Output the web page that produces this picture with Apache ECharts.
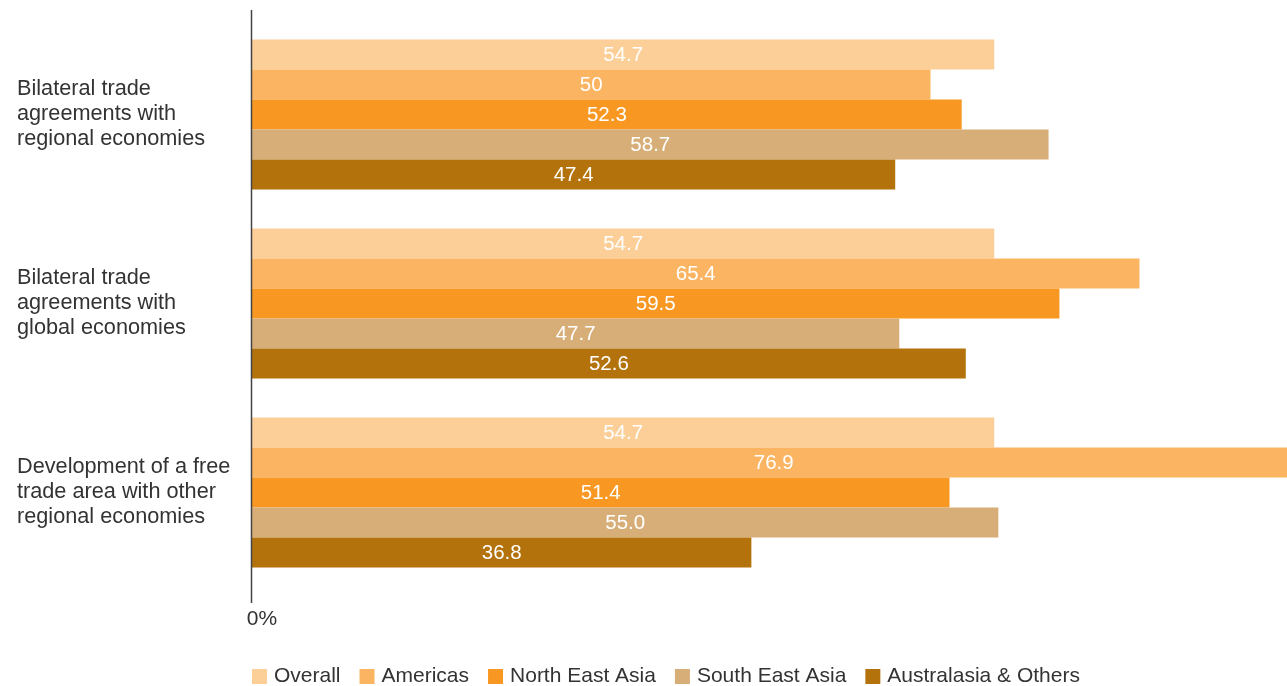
<!DOCTYPE html>
<html>
<head>
<meta charset="utf-8">
<script src="https://cdn.jsdelivr.net/npm/echarts@6/dist/echarts.min.js"></script>
<style>
  html, body { margin: 0; padding: 0; background: #fff; }
  #chart { width: 1287px; height: 686px; }
</style>
</head>
<body>
<div id="chart"></div>
<script>
// Survey categories (top to bottom)
const categories = [
  'Bilateral trade\nagreements with\nregional economies',
  'Bilateral trade\nagreements with\nglobal economies',
  'Development of a free\ntrade area with other\nregional economies'
];

// Region names and their colours
const regions = ['Overall', 'Americas', 'North East Asia', 'South East Asia', 'Australasia & Others'];
const regionColors = ['#FCCF98', '#FBB461', '#F89822', '#D8AE78', '#B3720B'];

// Percentages per region, one value per category (kept as printed)
const overall     = ['54.7', '54.7', '54.7'];
const americas    = ['50', '65.4', '76.9'];
const northEast   = ['52.3', '59.5', '51.4'];
const southEast   = ['58.7', '47.7', '55.0'];
const australasia = ['47.4', '52.6', '36.8'];
const seriesValues = [overall, americas, northEast, southEast, australasia];

const FONT = '"Liberation Sans", Arial, Helvetica, sans-serif';
const chart = echarts.init(document.getElementById('chart'));

chart.setOption({
  animation: false,
  textStyle: { fontFamily: FONT },
  // plot runs to the right edge; the longest bar runs off the page there
  grid: { left: 252, top: 20, height: 567, right: 0, containLabel: false },
  xAxis: {
    type: 'value',
    min: 0,
    max: 76.05,
    interval: 100,
    splitLine: { show: false },
    axisLine: { show: false },
    axisTick: { show: false },
    axisLabel: {
      margin: 22,
      fontSize: 21,
      color: '#333',
      fontFamily: FONT,
      padding: [0, 0, 0, 20],
      formatter: v => (v === 0 ? '0%' : '')
    }
  },
  yAxis: {
    type: 'category',
    inverse: true,
    data: categories,
    axisLine: { show: false },
    axisTick: { show: false },
    axisLabel: {
      align: 'left',
      margin: 235,
      fontSize: 21.7,
      lineHeight: 25,
      color: '#333',
      fontFamily: FONT
    }
  },
  legend: {
    left: 247,
    top: 661,
    itemWidth: 15,
    itemHeight: 15,
    itemGap: 19,
    icon: 'rect',
    textStyle: { fontSize: 21, color: '#333', fontFamily: FONT, padding: [0, 0, 0, 2] },
    data: regions
  },
  graphic: [{
    type: 'line',
    shape: { x1: 251.5, y1: 10, x2: 251.5, y2: 603 },
    style: { stroke: '#444', lineWidth: 1.5 },
    z: 10
  }],
  series: regions.map((name, i) => ({
    name,
    type: 'bar',
    barGap: '0%',
    barCategoryGap: '20.6%',
    clip: false,
    itemStyle: { color: regionColors[i] },
    label: {
      show: true,
      position: 'inside',
      color: '#fff',
      fontSize: 20.5,
      fontFamily: FONT,
      offset: [0, 1],
      formatter: p => seriesValues[i][p.dataIndex]
    },
    data: seriesValues[i].map(Number)
  }))
});
</script>
</body>
</html>
